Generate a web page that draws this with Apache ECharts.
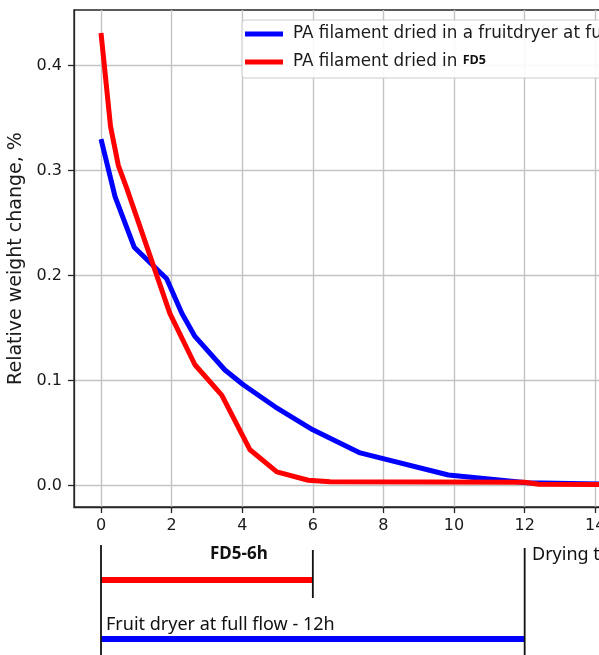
<!DOCTYPE html>
<html>
<head>
<meta charset="utf-8">
<script src="https://cdn.jsdelivr.net/npm/echarts@6/dist/echarts.min.js"></script>
<style>
  html, body { margin: 0; padding: 0; background: #fff; }
  #chart { width: 599px; height: 655px; }
</style>
</head>
<body>
<div id="chart"></div>
<script>
// drying curves, hours vs relative weight change (%)
const fruitDryerHours = [0, 0.4, 0.94, 1.86, 2.29, 2.66, 3.51, 4.03, 4.93, 6.0, 7.34, 9.84, 12.06, 15.3];
const fruitDryerWeight = [0.330, 0.275, 0.227, 0.197, 0.164, 0.142, 0.110, 0.096, 0.075, 0.053, 0.031, 0.010, 0.0025, 0.0008];
const fd5Hours = [0, 0.27, 0.49, 0.73, 1.95, 2.66, 3.42, 4.22, 4.98, 5.87, 6.49, 12.0, 12.4, 15.3];
const fd5Weight = [0.431, 0.342, 0.305, 0.283, 0.164, 0.115, 0.086, 0.034, 0.013, 0.005, 0.0035, 0.003, 0.0012, 0.0008];

const xTicks = [0, 2, 4, 6, 8, 10, 12, 14, 16];
const yTicks = [0, 0.1, 0.2, 0.3, 0.4];

// drying phases shown under the plot
const phaseNames = ['FD5-6h', 'Fruit dryer at full flow - 12h'];
const phaseHours = [6, 12];

const seriesNames = ['PA filament dried in a fruitdryer at full flow', 'PA filament dried in FD5'];

const zip = (xs, ys) => xs.map((x, i) => [x, ys[i]]);

const chart = echarts.init(document.getElementById('chart'));

const FONT = 'DejaVu Sans';
const X_MIN = -0.765, X_MAX = 16.06;
// plot is wider than the page, its right side is cut off like in the source figure
const PLOT_W = 594;

const option = {
  animation: false,
  grid: [
    { left: 74, width: PLOT_W, top: 10, bottom: 148, outerBoundsMode: 'none', containLabel: false,
      show: true, borderColor: '#262626', borderWidth: 1.3 },
    { left: 74, width: PLOT_W, top: 530, bottom: 0, outerBoundsMode: 'none', containLabel: false }
  ],
  legend: {
    data: seriesNames,
    orient: 'vertical',
    left: 242,
    top: 20,
    padding: [4, 8, 6, 3],
    itemWidth: 38,
    itemHeight: 5,
    itemGap: 8,
    icon: 'rect',
    selectedMode: false,
    backgroundColor: 'rgba(255,255,255,0.9)',
    borderColor: '#cccccc',
    borderWidth: 1,
    borderRadius: 3,
    formatter: name => name.endsWith('FD5')
      ? '{n|PA filament dried in }{b|FD5}'
      : '{n|' + name + '}',
    textStyle: {
      fontFamily: FONT, fontSize: 16.8, color: '#1a1a1a', lineHeight: 20,
      rich: {
        n: { fontFamily: FONT, fontSize: 16.8, color: '#1a1a1a', lineHeight: 20, padding: [0, 0, 0, 5] },
        b: { fontFamily: 'Open Sans', fontSize: 12.5, fontWeight: 'bold', color: '#111', lineHeight: 20, padding: [0, 0, 3, 0] }
      }
    }
  },
  xAxis: [
    {
      type: 'value', gridIndex: 0, min: X_MIN, max: X_MAX,
      axisLine: { show: true, onZero: false, lineStyle: { color: '#262626', width: 1.3 } },
      axisTick: { show: true, length: 6, customValues: xTicks, lineStyle: { color: '#262626', width: 1.3 } },
      axisLabel: { customValues: xTicks, margin: 11, fontFamily: FONT, fontSize: 16, color: '#1a1a1a', formatter: v => String(v) },
      splitLine: { show: true, lineStyle: { color: '#c4c4c4', width: 1.4 } }
    },
    {
      type: 'value', gridIndex: 1, min: X_MIN, max: X_MAX, show: false
    }
  ],
  yAxis: [
    {
      type: 'value', gridIndex: 0, min: -0.0205, max: 0.453,
      name: 'Relative weight change, %',
      nameLocation: 'middle',
      nameGap: 45,
      nameTextStyle: { fontFamily: FONT, fontSize: 19, color: '#1a1a1a' },
      axisLine: { show: true, onZero: false, lineStyle: { color: '#262626', width: 1.3 } },
      axisTick: { show: true, length: 6, customValues: yTicks, lineStyle: { color: '#262626', width: 1.3 } },
      axisLabel: { customValues: yTicks, margin: 12, fontFamily: FONT, fontSize: 16, color: '#1a1a1a', formatter: v => v.toFixed(1) },
      splitLine: { show: true, lineStyle: { color: '#c4c4c4', width: 1.4 } }
    },
    {
      type: 'value', gridIndex: 1, min: 0, max: 125, inverse: true, show: false
    }
  ],
  series: [
    {
      name: seriesNames[0], type: 'line', xAxisIndex: 0, yAxisIndex: 0,
      data: zip(fruitDryerHours, fruitDryerWeight),
      showSymbol: false, color: '#0000ff',
      lineStyle: { width: 5, color: '#0000ff' }, z: 3
    },
    {
      name: seriesNames[1], type: 'line', xAxisIndex: 0, yAxisIndex: 0,
      data: zip(fd5Hours, fd5Weight),
      showSymbol: false, color: '#ff0000',
      lineStyle: { width: 5, color: '#ff0000' }, z: 4
    },
    // phase bars and end markers below the plot
    {
      type: 'line', xAxisIndex: 1, yAxisIndex: 1, showSymbol: false, silent: true,
      data: [[0, 50], [phaseHours[0], 50]], lineStyle: { width: 6, color: '#ff0000' }
    },
    {
      type: 'line', xAxisIndex: 1, yAxisIndex: 1, showSymbol: false, silent: true,
      data: [[0, 109], [phaseHours[1], 109]], lineStyle: { width: 6, color: '#0000ff' }
    },
    {
      type: 'line', xAxisIndex: 1, yAxisIndex: 1, showSymbol: false, silent: true,
      data: [[0, 15], [0, 125]], lineStyle: { width: 1.8, color: '#111' }
    },
    {
      type: 'line', xAxisIndex: 1, yAxisIndex: 1, showSymbol: false, silent: true,
      data: [[phaseHours[0], 20], [phaseHours[0], 68]], lineStyle: { width: 1.8, color: '#111' }
    },
    {
      type: 'line', xAxisIndex: 1, yAxisIndex: 1, showSymbol: false, silent: true,
      data: [[phaseHours[1], 18], [phaseHours[1], 125]], lineStyle: { width: 1.8, color: '#111' }
    }
  ],
  graphic: [
    {
      type: 'text', left: 210, top: 546, silent: true,
      style: { text: phaseNames[0], fontFamily: 'Noto Sans', fontWeight: 'bold', fontSize: 17, fill: '#111' }
    },
    {
      type: 'text', left: 106, top: 616, silent: true,
      style: { text: phaseNames[1], fontFamily: 'Noto Sans', fontSize: 18, fill: '#111' }
    },
    {
      type: 'text', left: 532, top: 546, silent: true,
      style: { text: 'Drying time, h', fontFamily: 'Noto Sans', fontSize: 18, fill: '#111' }
    }
  ]
};

option && chart.setOption(option);
</script>
</body>
</html>
